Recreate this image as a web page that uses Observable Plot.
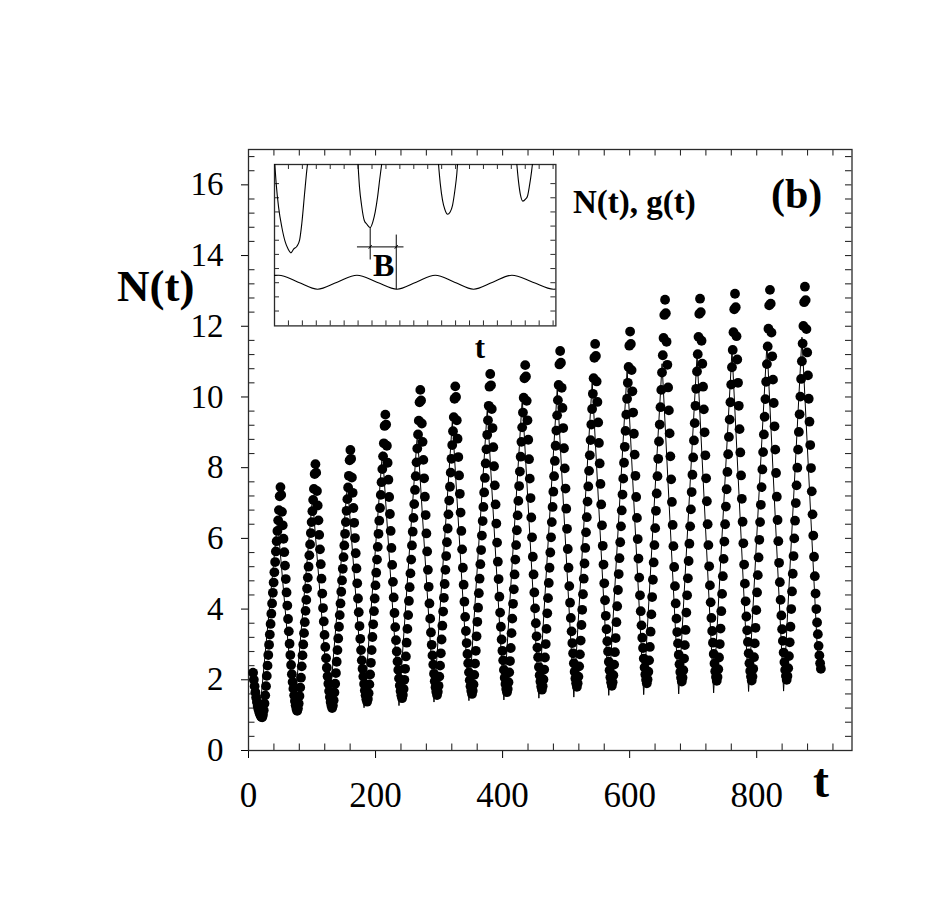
<!DOCTYPE html>
<html><head><meta charset="utf-8">
<script src="https://cdn.jsdelivr.net/npm/d3@7"></script>
<script src="https://cdn.jsdelivr.net/npm/@observablehq/plot@0.6"></script>
<style>
html,body{margin:0;padding:0;background:#fff;overflow:hidden;}
#wrap{position:relative;width:926px;height:907px;overflow:hidden;}
#inset{position:absolute;left:272.3px;top:162.3px;width:285.4px;height:165.4px;}
#wrap svg{max-width:none !important;}
</style></head><body>
<div id="wrap"><div id="main"></div><div id="inset"></div></div>
<script>
// ---------- main panel: tick labels ----------
const xTickLabels = [0, 200, 400, 600, 800];
const yTickLabels = [0, 2, 4, 6, 8, 10, 12, 14, 16];

// ---------- model curve (solid line): valley / peak vertices ----------
const lineT = [7.2, 16.8, 45.7, 71.8, 100.7, 126.9, 155.8, 181.9, 210.8, 236.9, 265.8, 292.0, 320.9, 347.0, 375.9, 402.0, 430.9, 457.1, 486.0, 512.1, 541.0, 567.1, 596.0, 622.1, 651.0, 677.2, 706.1, 732.2, 761.1, 787.2, 816.1, 842.3, 871.2, 897.0];
const lineN = [2.15, 0.92, 6.5, 1.04, 7.15, 1.15, 7.55, 1.21, 8.45, 1.27, 8.97, 1.37, 9.33, 1.41, 9.67, 1.43, 9.95, 1.48, 10.23, 1.51, 10.42, 1.56, 10.75, 1.58, 10.94, 1.60, 11.17, 1.63, 11.32, 1.67, 11.5, 1.68, 11.69, 2.3];

// ---------- data points (filled dots), sampled every dotDt from dotT0 ----------
const dotT0 = 7.23, dotDt = 1.1965;
const nLead = [2.2,2.0,1.82,1.65,1.5,1.37,1.26,1.17];
const nC1 = [1.09,1.03,0.98,0.95,0.94,1.01,1.14,1.33,1.56,1.82,2.11,2.40,2.70,2.99,3.28,3.58,3.87,4.16,4.46,4.75,5.04,5.33,5.63,5.92,6.21,6.51,6.80,7.19,7.45,7.23,6.75,6.37,5.99,5.61,5.23,4.85,4.47,4.10,3.72,3.37,3.02,2.70,2.42,2.16,1.94,1.75];
const nC2 = [1.56,1.40,1.28,1.18,1.12,1.19,1.33,1.54,1.78,2.06,2.38,2.69,3.00,3.32,3.63,3.95,4.26,4.58,4.89,5.20,5.52,5.83,6.15,6.46,6.77,7.09,7.40,7.82,8.10,7.86,7.34,6.93,6.51,6.10,5.69,5.27,4.86,4.44,4.03,3.65,3.27,2.93,2.61,2.34,2.10,1.89];
const nC3 = [1.68,1.51,1.37,1.27,1.20,1.27,1.42,1.64,1.89,2.19,2.51,2.84,3.17,3.50,3.83,4.16,4.49,4.81,5.14,5.47,5.80,6.13,6.46,6.78,7.11,7.44,7.77,8.21,8.50,8.25,7.72,7.29,6.86,6.44,6.01,5.58,5.15,4.73,4.30,3.91,3.52,3.16,2.84,2.55,2.31,2.09];
const nC4 = [1.88,1.70,1.56,1.45,1.38,1.46,1.62,1.87,2.15,2.48,2.84,3.21,3.57,3.94,4.30,4.67,5.03,5.40,5.76,6.13,6.50,6.86,7.23,7.59,7.96,8.32,8.69,9.18,9.50,9.22,8.62,8.14,7.66,7.17,6.69,6.21,5.73,5.25,4.77,4.33,3.89,3.49,3.12,2.80,2.52,2.28];
const nC5 = [2.04,1.84,1.68,1.56,1.48,1.57,1.74,2.00,2.31,2.66,3.05,3.44,3.83,4.23,4.62,5.01,5.40,5.80,6.19,6.58,6.97,7.37,7.76,8.15,8.54,8.94,9.33,9.85,10.20,9.90,9.25,8.73,8.22,7.70,7.18,6.66,6.14,5.63,5.11,4.63,4.16,3.73,3.34,2.99,2.69,2.43];
const nC6 = [2.17,1.96,1.79,1.66,1.57,1.66,1.83,2.09,2.40,2.75,3.14,3.53,3.93,4.32,4.71,5.11,5.50,5.89,6.28,6.68,7.07,7.46,7.86,8.25,8.64,9.03,9.43,9.95,10.30,10.00,9.34,8.82,8.30,7.78,7.26,6.73,6.21,5.69,5.17,4.69,4.21,3.78,3.38,3.04,2.73,2.47];
const nC7 = [2.21,1.99,1.82,1.69,1.60,1.69,1.87,2.14,2.46,2.82,3.23,3.64,4.04,4.45,4.86,5.27,5.67,6.08,6.49,6.89,7.30,7.71,8.12,8.52,8.93,9.34,9.75,10.29,10.65,10.33,9.66,9.12,8.58,8.04,7.50,6.96,6.42,5.88,5.34,4.85,4.35,3.90,3.50,3.14,2.82,2.55];
const nC8 = [2.28,2.06,1.88,1.74,1.65,1.74,1.93,2.21,2.53,2.90,3.32,3.73,4.15,4.56,4.98,5.40,5.81,6.23,6.65,7.06,7.48,7.89,8.31,8.73,9.14,9.56,9.98,10.53,10.90,10.58,9.89,9.34,8.79,8.24,7.69,7.14,6.59,6.03,5.48,4.98,4.47,4.02,3.60,3.23,2.91,2.64];
const nC9 = [2.36,2.13,1.95,1.81,1.72,1.82,2.01,2.29,2.63,3.01,3.44,3.88,4.31,4.74,5.17,5.60,6.03,6.46,6.89,7.32,7.76,8.19,8.62,9.05,9.48,9.91,10.34,10.92,11.30,10.97,10.26,9.69,9.12,8.55,7.98,7.41,6.84,6.27,5.70,5.17,4.65,4.18,3.75,3.37,3.04,2.75];
const nC10 = [2.47,2.23,2.04,1.90,1.80,1.90,2.09,2.38,2.72,3.11,3.55,3.98,4.42,4.86,5.29,5.73,6.17,6.60,7.04,7.47,7.91,8.35,8.78,9.22,9.66,10.09,10.53,11.11,11.50,11.16,10.44,9.86,9.28,8.70,8.12,7.54,6.96,6.37,5.79,5.26,4.73,4.25,3.81,3.43,3.09,2.80];
const nC11 = [2.51,2.27,2.07,1.93,1.83,1.93,2.13,2.43,2.78,3.18,3.63,4.08,4.54,4.99,5.44,5.89,6.34,6.79,7.24,7.69,8.14,8.59,9.04,9.50,9.95,10.40,10.85,11.45,11.85,11.50,10.76,10.16,9.56,8.96,8.37,7.77,7.17,6.58,5.98,5.43,4.89,4.39,3.94,3.54,3.19,2.90];
const nC12 = [2.60,2.35,2.15,2.00,1.90,2.01,2.23,2.55,2.93,3.36,3.85,4.34,4.83,5.32,5.81,6.29,6.78,7.27,7.76,8.25,8.74,9.22,9.71,10.20,10.69,11.18,11.67,12.32,12.75,12.37,11.56,10.91,10.27,9.62,8.97,8.32,7.67,7.03,6.38,5.78,5.19,4.65,4.16,3.73,3.35,3.03];
const nC13 = [2.71,2.44,2.22,2.06,1.95,2.06,2.27,2.60,2.98,3.41,3.90,4.39,4.87,5.36,5.85,6.34,6.82,7.31,7.80,8.29,8.77,9.26,9.75,10.23,10.72,11.21,11.70,12.35,12.78,12.40,11.59,10.94,10.29,9.65,9.00,8.35,7.70,7.05,6.40,5.81,5.21,4.67,4.19,3.75,3.38,3.05];
const nC14 = [2.73,2.46,2.24,2.08,1.97,2.08,2.30,2.63,3.01,3.45,3.94,4.43,4.93,5.42,5.91,6.40,6.90,7.39,7.88,8.38,8.87,9.36,9.85,10.35,10.84,11.33,11.83,12.48,12.92,12.54,11.72,11.06,10.40,9.75,9.09,8.43,7.78,7.12,6.47,5.86,5.26,4.72,4.22,3.79,3.40,3.07];
const nC15 = [2.75,2.47,2.25,2.09,1.98,2.09,2.31,2.64,3.03,3.47,3.97,4.47,4.96,5.46,5.96,6.46,6.95,7.45,7.95,8.44,8.94,9.44,9.94,10.43,10.93,11.43,11.93,12.59,13.03,12.64,11.82,11.15,10.49,9.83,9.17,8.51,7.85,7.18,6.52,5.92,5.31,4.76,4.26,3.82,3.43,3.10];
const nC16 = [2.77,2.50,2.28,2.11,2.00,2.11,2.33,2.67,3.06,3.50,4.00,4.50,5.00,5.50,6.00,6.50,7.00,7.50,8.00,8.51,9.01,9.51,10.01,10.51,11.01,11.51,12.01,12.68,13.12,12.74,11.92,11.26,10.61,9.95,9.30,8.64,7.99,7.33,6.68,6.08,5.48,4.93,4.44,4.00,3.62,3.29,2.96,2.69,2.47,2.31];

// ---------- inset: g(t) read at extrema / mid crossings ----------
const gX = [0, 0.3, 1.7, 3.09, 4.5, 5.92, 7.35, 8.79, 10.17, 11.54, 12.92, 14.29, 15.67, 17.04, 18.54, 20.03, 20.2];
const gY = [3.52, 3.53, 3.035, 2.54, 3.035, 3.53, 3.035, 2.54, 3.035, 3.53, 3.035, 2.54, 3.035, 3.53, 3.035, 2.54, 2.545];
// ---------- inset: N(t) minima (clipped at top) ----------
const dip1 = [[0.00,11.65],[0.12,10.00],[0.29,8.36],[0.53,6.90],[0.77,5.88],[0.96,5.41],[1.18,5.11],[1.37,5.37],[1.61,5.58],[1.80,6.00],[1.96,7.18],[2.16,9.30],[2.32,10.95],[2.40,11.65]];
const dip2 = [[5.98,11.65],[6.10,9.77],[6.25,8.47],[6.44,7.41],[6.63,7.13],[6.87,6.90],[7.06,7.30],[7.23,8.00],[7.40,9.06],[7.56,10.36],[7.73,11.65]];
const dip3 = [[11.75,11.65],[11.90,10.00],[12.06,8.83],[12.23,8.17],[12.42,7.84],[12.61,8.00],[12.78,8.47],[12.95,9.53],[13.09,10.71],[13.16,11.65]];
const dip4 = [[17.37,11.65],[17.52,10.12],[17.66,9.18],[17.83,8.76],[18.02,8.90],[18.16,9.11],[18.31,9.89],[18.45,10.83],[18.55,11.65]];
// ---------- inset: "B" bracket segments [x1,y1,x2,y2] ----------
const bracketB = [[5.92,5.53,9.26,5.53],[6.87,6.90,6.87,4.64],[8.74,6.40,8.74,2.54],[6.76,5.40,6.98,5.66],[8.63,5.40,8.85,5.66]];
const insetXTicks = [1,2,3,4,5,6,7,8,9,10,11,12,13,14,15,16,17,18,19,20];
const insetYTicks = [1,2,3,4,5,6,7,8,9,10];

// ---------- build ----------
const serif = "'Liberation Serif','Times New Roman',Times,serif";
const ink = "#2a2a2a";
const W = 926, H = 907, mL = 248, mR = 74.5, mT = 149, mB = 157;
const plotW = W - mL - mR, plotH = H - mT - mB;

const dotN = [].concat(nLead, nC1, nC2, nC3, nC4, nC5, nC6, nC7, nC8, nC9, nC10, nC11, nC12, nC13, nC14, nC15, nC16);
const dotRows = dotN.map((N, i) => ({t: dotT0 + i * dotDt, N}));
const lineRows = lineT.map((t, i) => ({t, N: lineN[i]}));

const xAll40 = d3.range(40, 950, 40);
const xMinor = xAll40.filter(v => v % 200 !== 0);
const yAll04 = d3.range(1, 43).map(k => k * 0.4);
const yMinor = yAll04.filter(v => Math.abs(v / 2 - Math.round(v / 2)) > 1e-6);

const main = Plot.plot({
  width: W, height: H,
  marginLeft: mL, marginRight: mR, marginTop: mT, marginBottom: mB,
  style: {fontFamily: serif, background: "white", color: "black"},
  x: {domain: [0, 950]},
  y: {domain: [0, 17]},
  marks: [
    Plot.tickX(xAll40, {x: d => d, insetBottom: plotH - 6.5, stroke: ink, strokeWidth: 1.1}),
    Plot.tickX(xMinor, {x: d => d, insetTop: plotH - 6.5, stroke: ink, strokeWidth: 1.1}),
    Plot.tickY(yAll04, {y: d => d, insetLeft: plotW - 6.5, stroke: ink, strokeWidth: 1.1}),
    Plot.tickY(yMinor, {y: d => d, insetRight: plotW - 6.5, stroke: ink, strokeWidth: 1.1}),
    Plot.axisX({ticks: xTickLabels, tickSize: 8, tickPadding: 24, fontSize: 35, label: null, tickFormat: d => String(d)}),
    Plot.axisY({ticks: yTickLabels, tickSize: 7, tickPadding: 18, fontSize: 33, label: null, tickFormat: d => String(d)}),
    Plot.frame({stroke: ink, strokeWidth: 1.3}),
    Plot.line(lineRows, {x: "t", y: "N", stroke: "black", strokeWidth: 1}),
    Plot.dot(dotRows, {x: "t", y: "N", r: 4.9, fill: "black"})
  ]
});
document.getElementById("main").appendChild(main);
// make sure tick-label sizes are applied
d3.select(main).selectAll('g[aria-label="x-axis tick label"]').attr("font-size", 35).selectAll("text").style("font-size", "35px");
d3.select(main).selectAll('g[aria-label="y-axis tick label"]').attr("font-size", 33).selectAll("text").style("font-size", "33px");

const iW = 281.4, iH = 161.4, im = 2;
const inset = Plot.plot({
  width: iW + 2 * im, height: iH + 2 * im, margin: im,
  style: {fontFamily: serif, background: "white", color: "black"},
  x: {domain: [0, 20.2], axis: null},
  y: {domain: [-0.05, 11.35], axis: null},
  marks: [
    Plot.tickX(insetXTicks, {x: d => d, insetBottom: iH - 5, stroke: ink}),
    Plot.tickX(insetXTicks, {x: d => d, insetTop: iH - 5, stroke: ink}),
    Plot.tickY(insetYTicks, {y: d => d, insetRight: iW - 5, stroke: ink}),
    Plot.tickY(insetYTicks, {y: d => d, insetLeft: iW - 5, stroke: ink}),
    Plot.frame({stroke: ink, strokeWidth: 1.3}),
    Plot.line(gX.map((x, i) => ({x, y: gY[i]})), {x: "x", y: "y", curve: "monotone-x", stroke: "black", strokeWidth: 1.1, clip: true}),
    ...[dip1, dip2, dip3, dip4].map(dip => Plot.line(dip, {x: d => d[0], y: d => d[1], curve: "monotone-x", stroke: "black", strokeWidth: 1.1, clip: true})),
    Plot.link(bracketB, {x1: d => d[0], y1: d => d[1], x2: d => d[2], y2: d => d[3], stroke: "black", strokeWidth: 1})
  ]
});
document.getElementById("inset").appendChild(inset);

// ---------- text labels ----------
function label(svg, txt, x, y, size, anchor) {
  d3.select(svg).append("text")
    .attr("x", x).attr("y", y)
    .attr("font-family", serif).attr("font-weight", "bold")
    .attr("font-size", size).attr("text-anchor", anchor || "start")
    .attr("fill", "black").text(txt);
}
label(main, "N(t)", 117, 301, 45);
label(main, "t", 813, 797, 48);
label(main, "(b)", 771, 208, 42);
label(main, "N(t), g(t)", 573, 213, 33);
label(main, "t", 480, 358, 31, "middle");
label(inset, "B", 384 - 272.3, 276.7 - 162.3, 32, "middle");
</script>
</body></html>
